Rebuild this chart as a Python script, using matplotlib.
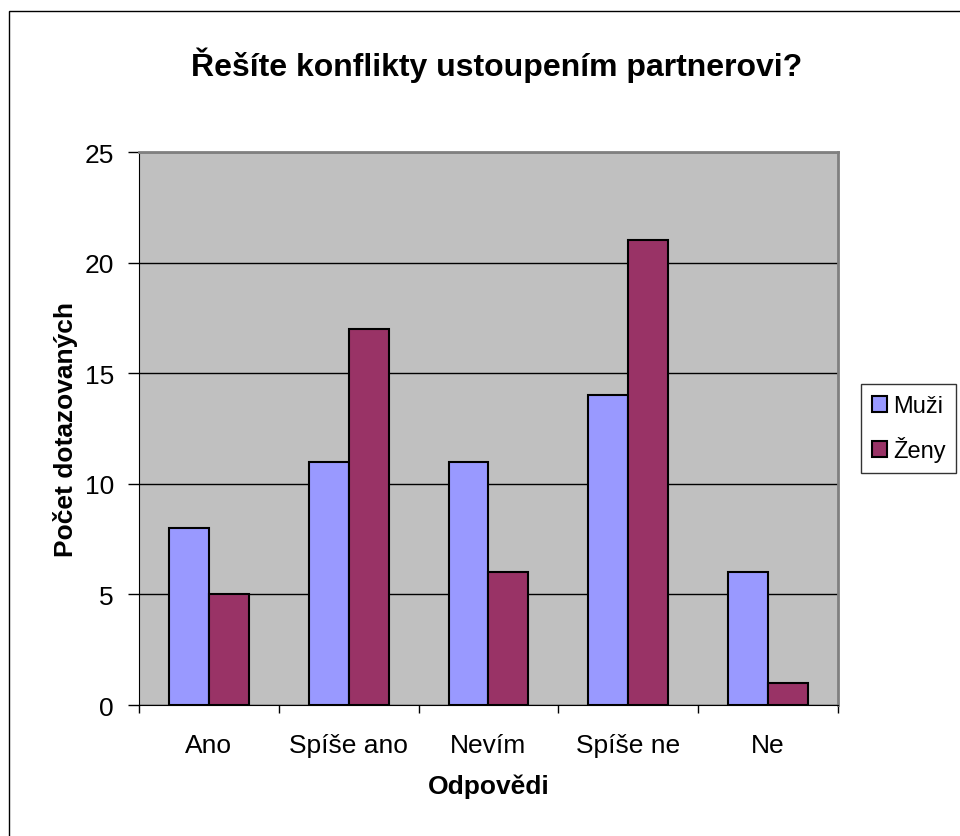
import matplotlib.pyplot as plt
import numpy as np
from matplotlib.patches import Rectangle

plt.rcParams['font.family'] = ['Liberation Sans', 'DejaVu Sans']

kategorie = ['Ano', 'Spíše ano', 'Nevím', 'Spíše ne', 'Ne']
muzi = [8, 11, 11, 14, 6]
zeny = [5, 17, 6, 21, 1]

fig = plt.figure(figsize=(9.6, 8.37), dpi=100)
ax = fig.add_axes([0.1448, 0.1565, 0.728, 0.6607])

# ramecek grafu - vpravo a dole je oriznuty
fig.patches.append(Rectangle((9 / 960, -20 / 837), 1000 / 960, 845 / 837,
                             transform=fig.transFigure, fill=False,
                             edgecolor='black', linewidth=1, clip_on=False))

x = np.arange(len(kategorie))
w = 1 / 3.5
ax.set_facecolor('#C0C0C0')
ax.bar(x - w / 2, muzi, w, color='#9999FF', edgecolor='black', linewidth=1.5, label='Muži', zorder=3)
ax.bar(x + w / 2, zeny, w, color='#993366', edgecolor='black', linewidth=1.5, label='Ženy', zorder=3)

ax.set_xlim(-0.5, 4.5)
ax.set_ylim(0, 25)
ax.set_yticks([0, 5, 10, 15, 20, 25])
ax.yaxis.grid(True, color='black', linewidth=1, zorder=1)
ax.set_axisbelow(True)

ax.set_xticks(x)
ax.set_xticklabels(kategorie, fontsize=19)
ax.set_xticks(np.arange(-0.5, 5, 1), minor=True)
ax.tick_params(axis='x', which='major', length=0, pad=20)
ax.tick_params(axis='x', which='minor', length=6, width=1)
ax.tick_params(axis='y', labelsize=19, length=8, width=1, pad=10)

for s in ['top', 'right']:
    ax.spines[s].set_color('#808080')
    ax.spines[s].set_linewidth(2)
ax.spines['left'].set_color('black')
ax.spines['bottom'].set_color('black')

ax.set_xlabel('Odpovědi', fontsize=19, fontweight='bold', labelpad=12)
ax.set_ylabel('Počet dotazovaných', fontsize=19, fontweight='bold', labelpad=5)
fig.text(0.517, 0.922, 'Řešíte konflikty ustoupením partnerovi?', fontsize=23,
         fontweight='bold', ha='center', va='center')

leg = ax.legend(loc='center left', bbox_to_anchor=(1.033, 0.5), fontsize=17,
                frameon=True, fancybox=False, edgecolor='black',
                handlelength=0.65, handleheight=0.65, handletextpad=0.25,
                labelspacing=0.8, borderpad=0.45, borderaxespad=0)
leg.get_frame().set_linewidth(1)

fig.savefig('out.png', dpi=100)
